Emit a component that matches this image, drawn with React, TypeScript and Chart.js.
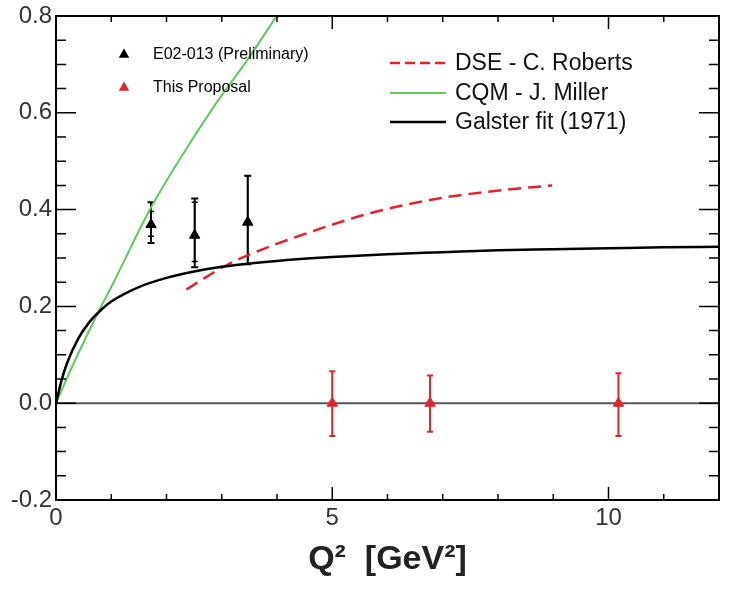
import React, { useEffect, useRef } from "react";
import { Chart, registerables } from "chart.js";
Chart.register(...registerables);

const xTickValues = [0, 5, 10];
const xTickLabels = ["0", "5", "10"];
const yTickValues = [-0.2, 0, 0.2, 0.4, 0.6, 0.8];
const yTickLabels = ["-0.2", "0.0", "0.2", "0.4", "0.6", "0.8"];

const galsterX = [0, 0.1, 0.2, 0.4, 0.6, 0.8, 1, 1.5, 2, 2.5, 3, 4, 5, 6, 7, 8, 9, 10, 11, 12];
const galsterY = [0, 0.047, 0.083, 0.133, 0.167, 0.191, 0.21, 0.24, 0.259, 0.272, 0.282, 0.294, 0.302, 0.308, 0.312, 0.316, 0.318, 0.32, 0.322, 0.323];

const cqmX = [0, 0.25, 0.5, 0.76, 1, 1.7, 2.3, 2.9, 3.5, 4.05];
const cqmY = [0, 0.065, 0.126, 0.187, 0.24, 0.4, 0.515, 0.62, 0.715, 0.81];

const dseX = [2.36, 3.05, 3.5, 4.46, 5.67, 6.87, 8.07, 8.98];
const dseY = [0.235, 0.283, 0.307, 0.348, 0.392, 0.422, 0.44, 0.45];

const e02X = [1.72, 2.51, 3.47];
const e02Y = [0.369, 0.347, 0.374];
const e02StatLow = [0.345, 0.293, 0.287];
const e02StatHigh = [0.396, 0.415, 0.47];
const e02TotLow = [0.331, 0.281, 0.287];
const e02TotHigh = [0.415, 0.423, 0.47];

const propX = [5.0, 6.77, 10.18];
const propY = [0, 0, 0];
const propLow = [-0.068, -0.059, -0.068];
const propHigh = [0.066, 0.057, 0.062];

const seriesNames = ["Galster fit (1971)", "CQM - J. Miller", "DSE - C. Roberts", "E02-013 (Preliminary)", "This Proposal"];

const RED = "#e8202a";
const GREEN = "#5fc85f";
const FONT = "'Liberation Sans', Arial, Helvetica, sans-serif";

const zip = (xs: number[], ys: number[]) => xs.map((x, i) => ({ x, y: ys[i] }));

const drawTri = (ctx: CanvasRenderingContext2D, x: number, y: number, r: number, color: string) => {
  ctx.beginPath();
  ctx.moveTo(x, y - r);
  ctx.lineTo(x + r * 0.95, y + r * 0.7);
  ctx.lineTo(x - r * 0.95, y + r * 0.7);
  ctx.closePath();
  ctx.fillStyle = color;
  ctx.fill();
};

const customPlugin = {
  id: "custom",
  beforeDatasetsDraw(chart: any) {
    const { ctx, chartArea: a, scales } = chart;
    const y0 = scales.y.getPixelForValue(0);
    ctx.save();
    ctx.strokeStyle = "#555";
    ctx.lineWidth = 2;
    ctx.beginPath();
    ctx.moveTo(a.left, y0);
    ctx.lineTo(a.right, y0);
    ctx.stroke();
    ctx.restore();
  },
  beforeDatasetDraw(chart: any, args: any) {
    const { ctx, scales } = chart;
    const xs = scales.x, ys = scales.y;
    const vbar = (x: number, lo: number, hi: number, cap: number, lw: number, color: string) => {
      const px = xs.getPixelForValue(x);
      const pl = ys.getPixelForValue(lo);
      const ph = ys.getPixelForValue(hi);
      ctx.strokeStyle = color;
      ctx.lineWidth = lw;
      ctx.beginPath();
      ctx.moveTo(px, pl);
      ctx.lineTo(px, ph);
      ctx.moveTo(px - cap, pl);
      ctx.lineTo(px + cap, pl);
      ctx.moveTo(px - cap, ph);
      ctx.lineTo(px + cap, ph);
      ctx.stroke();
    };
    ctx.save();
    if (args.index === 3) {
      e02X.forEach((x, i) => {
        vbar(x, e02TotLow[i], e02TotHigh[i], 3.5, 2, "#000");
        vbar(x, e02StatLow[i], e02StatHigh[i], 3, 1.5, "#000");
      });
    }
    if (args.index === 4) {
      propX.forEach((x, i) => vbar(x, propLow[i], propHigh[i], 3, 2, RED));
    }
    ctx.restore();
  },
  afterDraw(chart: any) {
    const { ctx, chartArea: a, scales } = chart;
    const xs = scales.x, ys = scales.y;
    ctx.save();
    ctx.strokeStyle = "#000";
    ctx.lineWidth = 2;
    ctx.strokeRect(a.left, a.top, a.right - a.left, a.bottom - a.top);
    ctx.lineWidth = 1.5;
    ctx.beginPath();
    for (let v = 0; v <= 12.001; v += 1) {
      const px = xs.getPixelForValue(v);
      const major = Math.abs(v % 5) < 1e-6;
      const len = major ? 13 : 6;
      ctx.moveTo(px, a.bottom);
      ctx.lineTo(px, a.bottom - len);
      ctx.moveTo(px, a.top);
      ctx.lineTo(px, a.top + len);
    }
    for (let k = -4; k <= 16; k++) {
      const v = k * 0.05;
      const py = ys.getPixelForValue(v);
      const major = k % 4 === 0;
      const len = major ? 20 : 10;
      ctx.moveTo(a.left, py);
      ctx.lineTo(a.left + len, py);
      ctx.moveTo(a.right, py);
      ctx.lineTo(a.right - len, py);
    }
    ctx.stroke();

    // left legend (markers)
    ctx.textBaseline = "middle";
    ctx.textAlign = "left";
    ctx.font = `16px ${FONT}`;
    drawTri(ctx, 124, 54, 5.5, "#000");
    ctx.fillStyle = "#000";
    ctx.fillText(seriesNames[3], 153, 55);
    drawTri(ctx, 124, 87, 5.5, RED);
    ctx.fillStyle = "#000";
    ctx.fillText(seriesNames[4], 153, 88);

    // right legend (lines)
    const rows = [
      { name: seriesNames[2], color: RED, dash: [10, 5], w: 2.5, y: 63 },
      { name: seriesNames[1], color: GREEN, dash: [], w: 2, y: 93 },
      { name: seriesNames[0], color: "#000", dash: [], w: 2.5, y: 122 },
    ];
    ctx.font = `23px ${FONT}`;
    rows.forEach((r) => {
      ctx.strokeStyle = r.color;
      ctx.lineWidth = r.w;
      ctx.setLineDash(r.dash);
      ctx.beginPath();
      ctx.moveTo(390, r.y);
      ctx.lineTo(446, r.y);
      ctx.stroke();
      ctx.setLineDash([]);
      ctx.fillStyle = "#111";
      ctx.fillText(r.name, 455, r.y + 1);
    });
    ctx.restore();
  },
};

export default function App() {
  const ref = useRef<HTMLCanvasElement>(null);
  useEffect(() => {
    if (!ref.current) return;
    const chart = new Chart(ref.current, {
      type: "scatter",
      data: {
        datasets: [
          {
            label: seriesNames[0],
            data: zip(galsterX, galsterY),
            showLine: true,
            borderColor: "#000",
            borderWidth: 2.5,
            pointRadius: 0,
            cubicInterpolationMode: "monotone",
          },
          {
            label: seriesNames[1],
            data: zip(cqmX, cqmY),
            showLine: true,
            borderColor: GREEN,
            borderWidth: 2,
            pointRadius: 0,
            cubicInterpolationMode: "monotone",
          },
          {
            label: seriesNames[2],
            data: zip(dseX, dseY),
            showLine: true,
            borderColor: RED,
            borderWidth: 2.5,
            borderDash: [13, 7],
            pointRadius: 0,
            cubicInterpolationMode: "monotone",
          },
          {
            label: seriesNames[3],
            data: zip(e02X, e02Y),
            showLine: false,
            pointStyle: "triangle",
            pointRadius: 6,
            backgroundColor: "#000",
            borderColor: "#000",
            borderWidth: 1,
          },
          {
            label: seriesNames[4],
            data: zip(propX, propY),
            showLine: false,
            pointStyle: "triangle",
            pointRadius: 6,
            backgroundColor: RED,
            borderColor: RED,
            borderWidth: 1,
          },
        ] as any,
      },
      options: {
        animation: false,
        responsive: false,
        events: [],
        layout: { padding: { top: 13, right: 12, left: 0, bottom: 0 } },
        plugins: { legend: { display: false }, tooltip: { enabled: false } },
        scales: {
          x: {
            type: "linear",
            min: 0,
            max: 12,
            grid: { display: false, drawTicks: false },
            border: { display: false },
            afterBuildTicks: (s: any) => {
              s.ticks = xTickValues.map((v) => ({ value: v }));
            },
            afterFit: (s: any) => {
              s.height = 89;
            },
            ticks: {
              padding: 6,
              color: "#333",
              font: { family: FONT, size: 24, lineHeight: 1 },
              maxRotation: 0,
              callback: (v: any) => {
                const i = xTickValues.indexOf(Number(v));
                return i >= 0 ? xTickLabels[i] : "";
              },
            },
            title: {
              display: true,
              text: "Q²  [GeV²]",
              color: "#222",
              font: { family: FONT, size: 34, weight: "bold", lineHeight: 1 },
              padding: { top: 0, bottom: 12 },
            },
          },
          y: {
            type: "linear",
            min: -0.2,
            max: 0.8,
            grid: { display: false, drawTicks: false },
            border: { display: false },
            afterBuildTicks: (s: any) => {
              s.ticks = yTickValues.map((v) => ({ value: v }));
            },
            afterFit: (s: any) => {
              s.width = 56;
            },
            ticks: {
              padding: 4,
              color: "#333",
              font: { family: FONT, size: 24, lineHeight: 1 },
              callback: (v: any) => {
                const i = yTickValues.findIndex((t) => Math.abs(t - Number(v)) < 1e-9);
                return i >= 0 ? yTickLabels[i] : "";
              },
            },
          },
        },
      } as any,
      plugins: [customPlugin as any],
    });
    return () => chart.destroy();
  }, []);
  return (
    <canvas
      ref={ref}
      width={731}
      height={589}
      style={{ position: "absolute", left: 0, top: 0, display: "block", width: 731, height: 589 }}
    />
  );
}
